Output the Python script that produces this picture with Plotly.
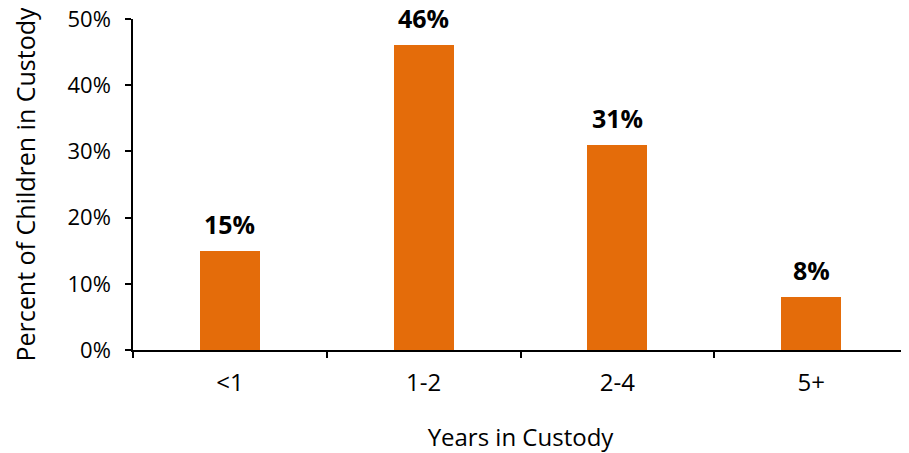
import plotly.graph_objects as go

categories = ["<1", "1-2", "2-4", "5+"]
values = [15, 46, 31, 8]
labels = ["15%", "46%", "31%", "8%"]
y_ticks = [0, 10, 20, 30, 40, 50]
y_tick_labels = ["0%", "10%", "20%", "30%", "40%", "50%"]

font_family = "Open Sans, Noto Sans, sans-serif"
bar_color = "#E46C0A"

fig = go.Figure()
fig.add_trace(go.Bar(x=categories, y=values, marker_color=bar_color, width=0.31,
                     marker_line_width=0, hoverinfo="skip"))

for c, v, t in zip(categories, values, labels):
    fig.add_annotation(x=c, y=v, text="<b>" + t + "</b>", showarrow=False,
                       yanchor="bottom", yshift=8,
                       font=dict(family=font_family, size=25, color="#000000"))

# page body has an 8px default margin, so the figure is sized/offset to compensate
fig.update_layout(
    width=901, height=445,
    margin=dict(l=125, r=1, t=11, b=103),
    plot_bgcolor="white", paper_bgcolor="white",
    showlegend=False,
    font=dict(family=font_family, size=22, color="#000000"),
    bargap=0.0,
)
fig.update_xaxes(
    showline=True, linecolor="#000000", linewidth=1.5, automargin=False,
    ticks="outside", tickson="boundaries", ticklen=6, tickcolor="#000000", tickwidth=1.5,
    tickfont=dict(size=24), showgrid=False, ticklabelstandoff=10,
    title=dict(text="Years in Custody", font=dict(size=24), standoff=38),
)
fig.update_yaxes(
    range=[0, 50], tickvals=y_ticks, ticktext=y_tick_labels,
    showline=True, linecolor="#000000", linewidth=1.5, automargin=False,
    ticks="outside", ticklen=6, tickcolor="#000000", tickwidth=1.5,
    tickfont=dict(size=22), showgrid=False, zeroline=False, ticklabelstandoff=10,
    ticklabeloverflow="allow",
    title=dict(text="Percent of Children in Custody", font=dict(size=25), standoff=30),
)

fig.write_html("out.html")
